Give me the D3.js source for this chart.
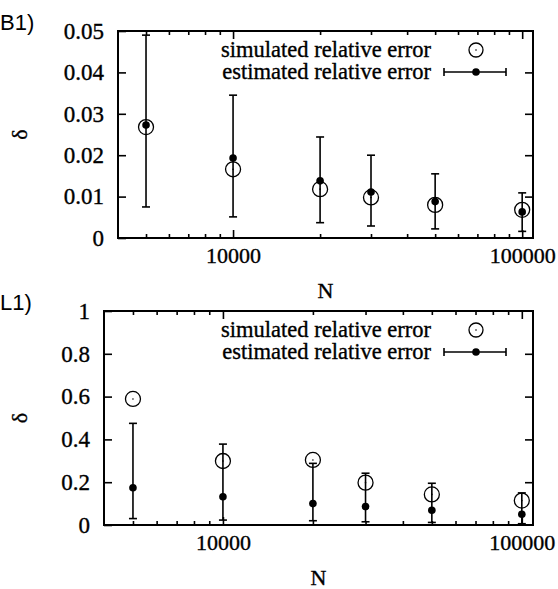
<!DOCTYPE html>
<html>
<head>
<meta charset="utf-8">
<script src="https://cdn.jsdelivr.net/npm/d3@7"></script>
<style>
  body { margin: 0; background: #fff; }
</style>
</head>
<body>
<script>
// sample sizes N
var Ns = [5000, 10000, 20000, 30000, 50000, 100000];

// B1) panel
var b1Sim = [0.0268, 0.0166, 0.0118, 0.0098, 0.0080, 0.0068];
var b1Est = [0.0273, 0.0193, 0.0138, 0.0111, 0.0088, 0.0063];
var b1Lo  = [0.0075, 0.0051, 0.0037, 0.0029, 0.0022, 0.0016];
var b1Hi  = [0.0490, 0.0345, 0.0244, 0.0200, 0.0155, 0.0109];
var b1Ticks = [0, 0.01, 0.02, 0.03, 0.04, 0.05];

// L1) panel
var l1Sim = [0.589, 0.299, 0.304, 0.198, 0.143, 0.114];
var l1Est = [0.174, 0.132, 0.100, 0.086, 0.069, 0.050];
var l1Lo  = [0.030, 0.023, 0.020, 0.015, 0.012, 0.006];
var l1Hi  = [0.475, 0.378, 0.288, 0.242, 0.195, 0.150];
var l1Ticks = [0, 0.2, 0.4, 0.6, 0.8, 1];

var xMajor = [10000, 100000];
var xMinor = [5000, 6000, 7000, 8000, 9000, 20000, 30000, 40000, 50000, 60000, 70000, 80000, 90000];
var legendLabels = ["simulated relative error", "estimated relative error"];

var SERIF = "'Liberation Serif', 'Times New Roman', serif";

var svg = d3.select("body").append("svg")
  .attr("width", 558)
  .attr("height", 589)
  .attr("font-family", SERIF);

drawPanel({ tag: "B1)", tagY: 30, left: 118, right: 533, top: 31, bottom: 238,
            ymax: 0.05, yticks: b1Ticks, sim: b1Sim, est: b1Est, lo: b1Lo, hi: b1Hi });
drawPanel({ tag: "L1)", tagY: 310, left: 104, right: 533, top: 311, bottom: 525,
            ymax: 1, yticks: l1Ticks, sim: l1Sim, est: l1Est, lo: l1Lo, hi: l1Hi });

// a touch of stroke so the serif text is as dark as the scan
svg.selectAll("text").style("font-family", SERIF)
  .attr("stroke", "#000").attr("stroke-width", 0.35);
svg.selectAll("text.tag").style("font-family", "'Liberation Sans', Arial, sans-serif")
  .attr("stroke", null);

function drawPanel(p) {
  var x = d3.scaleLog().domain([4000, 109000]).range([p.left, p.right]);
  var y = d3.scaleLinear().domain([0, p.ymax]).range([p.bottom, p.top]);
  var g = svg.append("g");

  // panel tag
  g.append("text").attr("class", "tag")
    .attr("x", 0).attr("y", p.tagY)
    .attr("font-size", 22)
    .text(p.tag);

  // y axis left (labels + inward ticks)
  var yl = g.append("g").attr("transform", "translate(" + p.left + ",0)")
    .call(d3.axisLeft(y).tickValues(p.yticks).tickFormat(d3.format("~g"))
      .tickSizeInner(-8).tickSizeOuter(0).tickPadding(14));
  // y axis right, ticks only
  var yr = g.append("g").attr("transform", "translate(" + p.right + ",0)")
    .call(d3.axisRight(y).tickValues(p.yticks.slice(1, -1)).tickFormat("")
      .tickSizeInner(-8).tickSizeOuter(0));

  // x axis bottom
  var xb = g.append("g").attr("transform", "translate(0," + p.bottom + ")")
    .call(d3.axisBottom(x).tickValues(xMajor).tickFormat(d3.format("d"))
      .tickSizeInner(-8).tickSizeOuter(0).tickPadding(9));
  var xbm = g.append("g").attr("transform", "translate(0," + p.bottom + ")")
    .call(d3.axisBottom(x).tickValues(xMinor).tickFormat("")
      .tickSizeInner(-4).tickSizeOuter(0));
  // x axis top
  var xt = g.append("g").attr("transform", "translate(0," + p.top + ")")
    .call(d3.axisTop(x).tickValues(xMajor).tickFormat("")
      .tickSizeInner(-8).tickSizeOuter(0));
  var xtm = g.append("g").attr("transform", "translate(0," + p.top + ")")
    .call(d3.axisTop(x).tickValues(xMinor).tickFormat("")
      .tickSizeInner(-4).tickSizeOuter(0));

  [yl, yr, xb, xbm, xt, xtm].forEach(function (a) {
    a.attr("font-family", SERIF).attr("font-size", 22);
    a.select(".domain").remove();
    a.selectAll("line").attr("stroke", "#000").attr("stroke-width", 1.6);
    a.selectAll("text").attr("fill", "#000");
  });
  yl.attr("font-size", 23);

  // frame
  g.append("rect")
    .attr("x", p.left).attr("y", p.top)
    .attr("width", p.right - p.left).attr("height", p.bottom - p.top)
    .attr("fill", "none").attr("stroke", "#000").attr("stroke-width", 2);

  // axis titles
  g.append("text")
    .attr("transform", "translate(27," + ((p.top + p.bottom) / 2) + ") rotate(-90)")
    .attr("text-anchor", "middle")
    .attr("font-size", 22)
    .text("δ");
  g.append("text")
    .attr("x", (p.left + p.right) / 2).attr("y", p.bottom + 60)
    .attr("text-anchor", "middle")
    .attr("font-size", 22)
    .text("N");

  // legend
  var ly1 = p.top + 19, ly2 = p.top + 41;
  g.append("text").attr("x", 431).attr("y", ly1).attr("dy", "0.32em")
    .attr("text-anchor", "end").attr("font-size", 22.5).text(legendLabels[0]);
  g.append("text").attr("x", 431).attr("y", ly2).attr("dy", "0.32em")
    .attr("text-anchor", "end").attr("font-size", 22.5).text(legendLabels[1]);
  g.append("circle").attr("cx", 476).attr("cy", ly1).attr("r", 7)
    .attr("fill", "none").attr("stroke", "#000").attr("stroke-width", 1.3);
  g.append("circle").attr("cx", 476).attr("cy", ly1).attr("r", 0.8).attr("fill", "#000");
  g.append("line").attr("x1", 444).attr("x2", 506).attr("y1", ly2).attr("y2", ly2)
    .attr("stroke", "#000").attr("stroke-width", 1.6);
  [444, 506].forEach(function (cx) {
    g.append("line").attr("x1", cx).attr("x2", cx).attr("y1", ly2 - 4).attr("y2", ly2 + 4)
      .attr("stroke", "#000").attr("stroke-width", 1.6);
  });
  g.append("circle").attr("cx", 476).attr("cy", ly2).attr("r", 3.8).attr("fill", "#000");

  var rows = Ns.map(function (n, i) {
    return { n: n, sim: p.sim[i], est: p.est[i], lo: p.lo[i], hi: p.hi[i] };
  });

  // error bars
  var eb = g.selectAll(".eb").data(rows).enter().append("g").attr("class", "eb");
  eb.append("line")
    .attr("x1", function (d) { return x(d.n); }).attr("x2", function (d) { return x(d.n); })
    .attr("y1", function (d) { return y(d.lo); }).attr("y2", function (d) { return y(d.hi); })
    .attr("stroke", "#000").attr("stroke-width", 1.6);
  ["lo", "hi"].forEach(function (k) {
    eb.append("line")
      .attr("x1", function (d) { return x(d.n) - 4; }).attr("x2", function (d) { return x(d.n) + 4; })
      .attr("y1", function (d) { return y(d[k]); }).attr("y2", function (d) { return y(d[k]); })
      .attr("stroke", "#000").attr("stroke-width", 1.6);
  });

  // simulated: open circles with center dot
  g.selectAll(".sim").data(rows).enter().append("circle").attr("class", "sim")
    .attr("cx", function (d) { return x(d.n); })
    .attr("cy", function (d) { return y(d.sim); })
    .attr("r", 7.5).attr("fill", "none").attr("stroke", "#000").attr("stroke-width", 1.3);
  g.selectAll(".simc").data(rows).enter().append("circle").attr("class", "simc")
    .attr("cx", function (d) { return x(d.n); })
    .attr("cy", function (d) { return y(d.sim); })
    .attr("r", 0.8).attr("fill", "#000");

  // estimated: filled dots
  g.selectAll(".est").data(rows).enter().append("circle").attr("class", "est")
    .attr("cx", function (d) { return x(d.n); })
    .attr("cy", function (d) { return y(d.est); })
    .attr("r", 3.8).attr("fill", "#000");
}
</script>
</body>
</html>
